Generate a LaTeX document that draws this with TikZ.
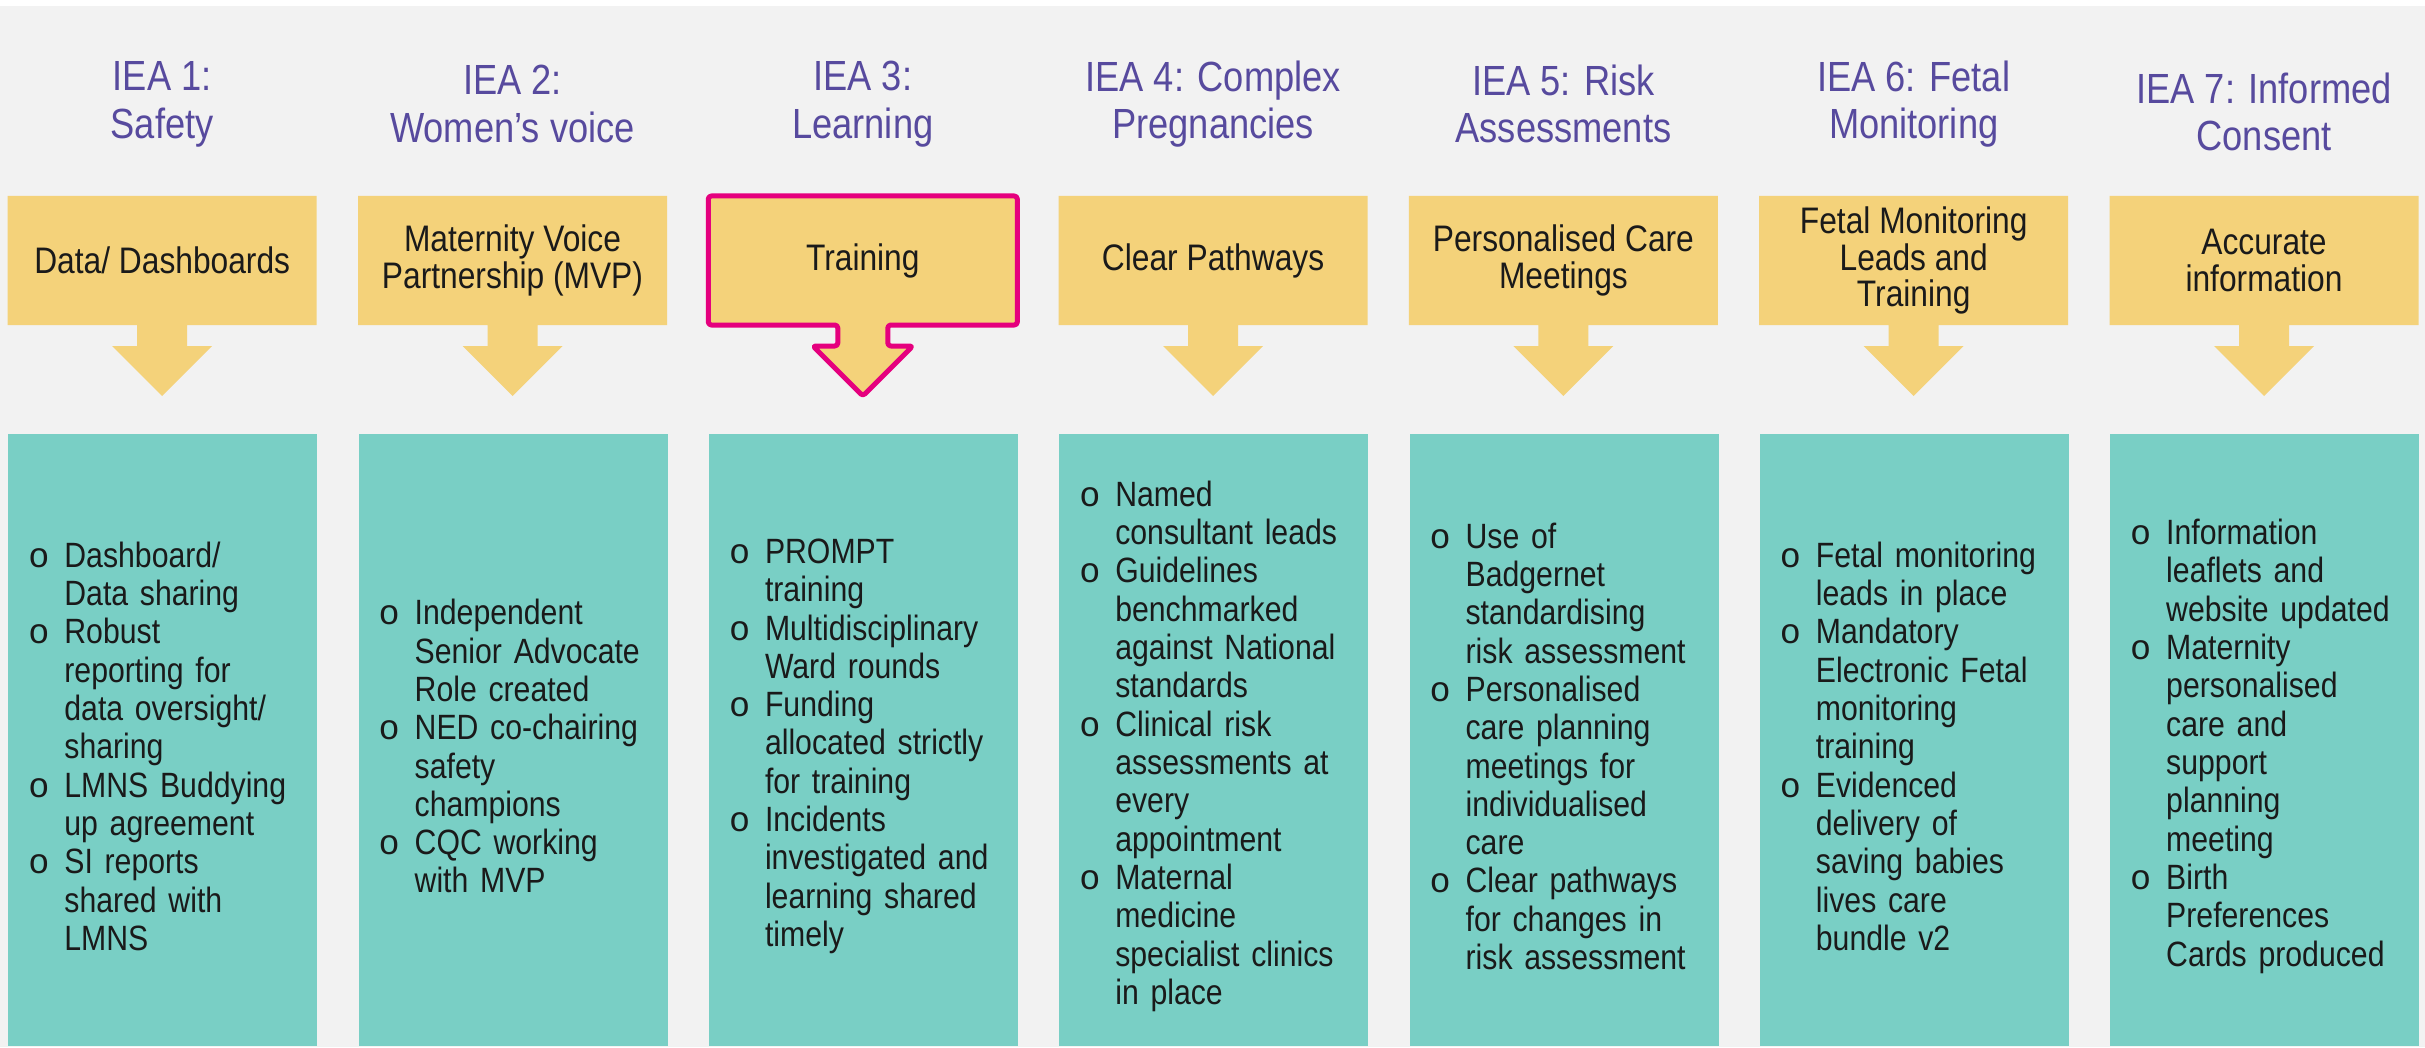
\documentclass[tikz,border=0pt]{standalone}
\usepackage{fontspec}
\setmainfont{Liberation Sans}[FakeStretch=0.86]
\newfontfamily\bulletfont{Liberation Mono}

\definecolor{bggray}{HTML}{F2F2F2}
\definecolor{ieapurple}{HTML}{574A9E}
\definecolor{boxyellow}{HTML}{F4D27A}
\definecolor{listteal}{HTML}{79CFC5}
\definecolor{trainpink}{HTML}{E5007E}
\definecolor{inkblack}{HTML}{1A1A1A}

% bullet lists with a hanging "o"
\newlength\ind
\setlength\ind{0.36cm}
\newcommand\itm[1]{\noindent\hangindent=\ind\hangafter=1%
  \makebox[\ind][l]{\bulletfont o}{\let\\\newline#1}\par}

% yellow box with a down arrow, #2 = centre x
\newcommand\callout[2][]{%
  \path[fill=boxyellow,#1] (#2-1.545,8.51) -- (#2+1.545,8.51) -- (#2+1.545,7.22)
    -- (#2+.25,7.22) -- (#2+.25,7.01) -- (#2+.5,7.01) -- (#2,6.51)
    -- (#2-.5,7.01) -- (#2-.25,7.01) -- (#2-.25,7.22) -- (#2-1.545,7.22) -- cycle;}

\begin{document}
\begin{tikzpicture}[x=1cm,y=1cm,
  title/.style={text=ieapurple,font=\fontsize{12}{13.6}\selectfont,align=center},
  boxtext/.style={text=inkblack,font=\fontsize{10.5}{10.5}\selectfont,align=center,
    minimum width=3.09cm,minimum height=1.29cm,inner sep=0pt},
  listbox/.style={fill=listteal,minimum width=3.09cm,minimum height=6.12cm,
    inner sep=0pt,anchor=south west},
  list/.style={text=inkblack,font=\fontsize{10}{10.9}\selectfont,text width=2.85cm,
    inner sep=0pt,anchor=west}]

\fill[white] (0,0) rectangle (24.25,10.47);
\fill[bggray] (0,0) rectangle (24.25,10.41);

\foreach \i in {0,1,3,4,5,6} \callout{1.622+\i*3.503};
\callout[draw=trainpink,line width=.05cm,rounded corners=.03cm,line join=round]{1.622+2*3.503}

% IEA 1
\node[title] (title1) at (1.622,9.43) {IEA 1:\\Safety};
\node[boxtext] (box1) at (1.622,7.865) {Data/ Dashboards};
\node[listbox] (col1) at (0.077,0) {};
\node[list] (items1) at ([xshift=.2cm,yshift=-.06cm]col1.west) {%
  \itm{Dashboard/\\Data sharing}
  \itm{Robust\\reporting for\\data oversight/\\sharing}
  \itm{LMNS Buddying\\up agreement}
  \itm{SI reports\\shared with\\LMNS}};

% IEA 2
\node[title] (title2) at (5.125,9.43) {IEA 2:\\Women’s voice};
\node[boxtext] (box2) at (5.125,7.865) {Maternity Voice\\Partnership (MVP)};
\node[listbox] (col2) at (3.580,0) {};
\node[list] (items2) at ([xshift=.2cm,yshift=-.06cm]col2.west) {%
  \itm{Independent\\Senior Advocate\\Role created}
  \itm{NED co-chairing\\safety\\champions}
  \itm{CQC working\\with MVP}};

% IEA 3
\node[title] (title3) at (8.628,9.43) {IEA 3:\\Learning};
\node[boxtext] (box3) at (8.628,7.865) {Training};
\node[listbox] (col3) at (7.083,0) {};
\node[list] (items3) at ([xshift=.2cm,yshift=-.06cm]col3.west) {%
  \itm{PROMPT\\training}
  \itm{Multidisciplinary\\Ward rounds}
  \itm{Funding\\allocated strictly\\for training}
  \itm{Incidents\\investigated and\\learning shared\\timely}};

% IEA 4
\node[title] (title4) at (12.131,9.43) {IEA 4: Complex\\Pregnancies};
\node[boxtext] (box4) at (12.131,7.865) {Clear Pathways};
\node[listbox] (col4) at (10.586,0) {};
\node[list] (items4) at ([xshift=.2cm,yshift=-.06cm]col4.west) {%
  \itm{Named\\consultant leads}
  \itm{Guidelines\\benchmarked\\against National\\standards}
  \itm{Clinical risk\\assessments at\\every\\appointment}
  \itm{Maternal\\medicine\\specialist clinics\\in place}};

% IEA 5
\node[title] (title5) at (15.634,9.43) {IEA 5: Risk\\Assessments};
\node[boxtext] (box5) at (15.634,7.865) {Personalised Care\\Meetings};
\node[listbox] (col5) at (14.089,0) {};
\node[list] (items5) at ([xshift=.2cm,yshift=-.06cm]col5.west) {%
  \itm{Use of\\Badgernet\\standardising\\risk assessment}
  \itm{Personalised\\care planning\\meetings for\\individualised\\care}
  \itm{Clear pathways\\for changes in\\risk assessment}};

% IEA 6
\node[title] (title6) at (19.137,9.43) {IEA 6: Fetal\\Monitoring};
\node[boxtext] (box6) at (19.137,7.865) {Fetal Monitoring\\Leads and\\Training};
\node[listbox] (col6) at (17.592,0) {};
\node[list] (items6) at ([xshift=.2cm,yshift=-.06cm]col6.west) {%
  \itm{Fetal monitoring\\leads in place}
  \itm{Mandatory\\Electronic Fetal\\monitoring\\training}
  \itm{Evidenced\\delivery of\\saving babies\\lives care\\bundle v2}};

% IEA 7
\node[title] (title7) at (22.640,9.35) {IEA 7: Informed\\Consent};
\node[boxtext] (box7) at (22.640,7.865) {Accurate\\information};
\node[listbox] (col7) at (21.095,0) {};
\node[list] (items7) at ([xshift=.2cm,yshift=-.06cm]col7.west) {%
  \itm{Information\\leaflets and\\website updated}
  \itm{Maternity\\personalised\\care and\\support\\planning\\meeting}
  \itm{Birth\\Preferences\\Cards produced}};
\end{tikzpicture}
\end{document}
